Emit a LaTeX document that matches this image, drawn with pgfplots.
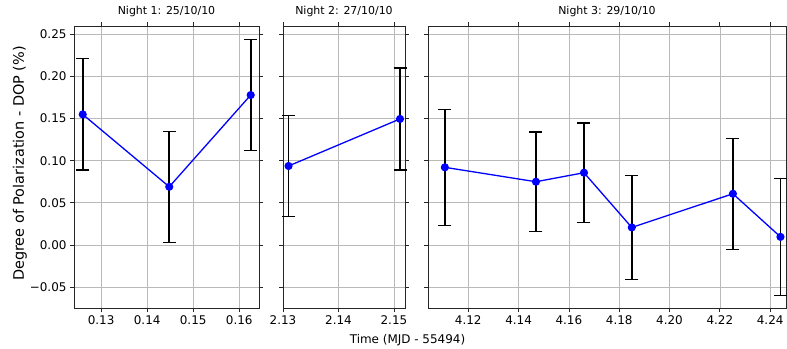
\documentclass[border=0pt]{standalone}
\usepackage{pgfplots}
\pgfplotsset{compat=1.18}
\usepackage{fontspec}
\setmainfont{DejaVu Sans}
\pgfplotstableread{
x y e
0.1260 0.155 0.066
0.1448 0.069 0.066
0.1625 0.178 0.066
}\nightone
\pgfplotstableread{
x y e
2.1310 0.0937 0.0603
2.1511 0.1496 0.0605
}\nighttwo
\pgfplotstableread{
x y e
4.1107 0.0921 0.0690
4.1469 0.0750 0.0590
4.1660 0.0857 0.0590
4.1850 0.0207 0.0615
4.2252 0.0607 0.0660
4.2441 0.0095 0.0695
}\nightthree
\pgfplotsset{
  panel/.style={
    scale only axis, height=282bp, ymin=-0.075, ymax=0.26,
    ytick={-0.05,0,0.05,0.1,0.15,0.2,0.25},
    grid=major, grid style={color=black!27, line width=0.6bp},
    axis line style={line width=0.8bp, black!85},
    tick style={black!85, line width=0.7bp},
    tick align=outside, major tick length=4bp,
    tick label style={font=\fontsize{12}{14}\selectfont},
    /pgf/number format/assume math mode=true,
    title style={font=\fontsize{11}{13}\selectfont, at={(0.5,1)}, anchor=base, yshift=6bp, inner sep=0pt},
    anchor=north west,
    clip=false,
  },
  dat/.style={blue, line width=1.3bp, mark=*, mark size=3.4bp, mark options={blue},
    error bars/.cd, y dir=both, y explicit,
    error bar style={black, line width=1.8bp},
    error mark options={rotate=90, black, mark size=6.5bp, line width=1.3bp}},
}
\begin{document}
\begin{tikzpicture}
\path[use as bounding box] (0bp,0bp) rectangle (787bp,-349bp);
% panel 1
\begin{axis}[panel, at={(74bp,-26bp)}, width=185bp,
  xmin=0.1241, xmax=0.1643,
  xtick={0.13,0.14,0.15,0.16}, xticklabels={0.13,0.14,0.15,0.16},
  yticklabels={−0.05,0.00,0.05,0.10,0.15,0.20,0.25},
  title={Night 1: 25/10/10}]
\addplot+[dat] table[x=x,y=y,y error=e] {\nightone};
\end{axis}
% panel 2
\begin{axis}[panel, at={(283bp,-26bp)}, width=122bp,
  xmin=2.1300, xmax=2.1520,
  xtick={2.13,2.14,2.15}, xticklabels={2.13,2.14,2.15},
  yticklabels={},
  title={Night 2: 27/10/10}]
\addplot+[dat] table[x=x,y=y,y error=e] {\nighttwo};
\end{axis}
% panel 3
\begin{axis}[panel, at={(428bp,-26bp)}, width=358bp,
  xmin=4.104, xmax=4.2463,
  xtick={4.12,4.14,4.16,4.18,4.20,4.22,4.24}, xticklabels={4.12,4.14,4.16,4.18,4.20,4.22,4.24},
  yticklabels={},
  title={Night 3: 29/10/10}]
\addplot+[dat] table[x=x,y=y,y error=e] {\nightthree};
\end{axis}
\node[font=\fontsize{12}{14}\selectfont, anchor=center] at (407.5bp,-340bp) {Time (MJD - 55494)};
\node[font=\fontsize{14.5}{16}\selectfont, rotate=90, anchor=center] at (20bp,-163.5bp) {Degree of Polarization - DOP (\%)};
\end{tikzpicture}
\end{document}
